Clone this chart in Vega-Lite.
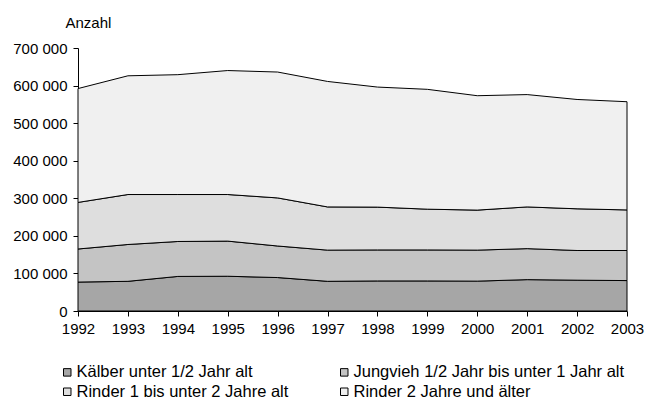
{
  "$schema": "https://vega.github.io/schema/vega-lite/v6.json",
  "autosize": {"type": "none"},
  "padding": {"left": 78, "top": 48, "right": 18, "bottom": 90},
  "width": 549,
  "height": 263,
  "background": "white",
  "config": {
    "font": "Liberation Sans",
    "view": {"stroke": null}
  },
  "data": {
    "values": [
      {"year": 1992, "series": "Kälber unter 1/2 Jahr alt", "k": 1, "value": 77000},
      {"year": 1993, "series": "Kälber unter 1/2 Jahr alt", "k": 1, "value": 79000},
      {"year": 1994, "series": "Kälber unter 1/2 Jahr alt", "k": 1, "value": 92000},
      {"year": 1995, "series": "Kälber unter 1/2 Jahr alt", "k": 1, "value": 92500},
      {"year": 1996, "series": "Kälber unter 1/2 Jahr alt", "k": 1, "value": 89000},
      {"year": 1997, "series": "Kälber unter 1/2 Jahr alt", "k": 1, "value": 79000},
      {"year": 1998, "series": "Kälber unter 1/2 Jahr alt", "k": 1, "value": 80000},
      {"year": 1999, "series": "Kälber unter 1/2 Jahr alt", "k": 1, "value": 80000},
      {"year": 2000, "series": "Kälber unter 1/2 Jahr alt", "k": 1, "value": 79500},
      {"year": 2001, "series": "Kälber unter 1/2 Jahr alt", "k": 1, "value": 83500},
      {"year": 2002, "series": "Kälber unter 1/2 Jahr alt", "k": 1, "value": 82000},
      {"year": 2003, "series": "Kälber unter 1/2 Jahr alt", "k": 1, "value": 81000},
      {"year": 1992, "series": "Jungvieh 1/2 Jahr bis unter 1 Jahr alt", "k": 2, "value": 88000},
      {"year": 1993, "series": "Jungvieh 1/2 Jahr bis unter 1 Jahr alt", "k": 2, "value": 98000},
      {"year": 1994, "series": "Jungvieh 1/2 Jahr bis unter 1 Jahr alt", "k": 2, "value": 93000},
      {"year": 1995, "series": "Jungvieh 1/2 Jahr bis unter 1 Jahr alt", "k": 2, "value": 93500},
      {"year": 1996, "series": "Jungvieh 1/2 Jahr bis unter 1 Jahr alt", "k": 2, "value": 84000},
      {"year": 1997, "series": "Jungvieh 1/2 Jahr bis unter 1 Jahr alt", "k": 2, "value": 83000},
      {"year": 1998, "series": "Jungvieh 1/2 Jahr bis unter 1 Jahr alt", "k": 2, "value": 82500},
      {"year": 1999, "series": "Jungvieh 1/2 Jahr bis unter 1 Jahr alt", "k": 2, "value": 82500},
      {"year": 2000, "series": "Jungvieh 1/2 Jahr bis unter 1 Jahr alt", "k": 2, "value": 82500},
      {"year": 2001, "series": "Jungvieh 1/2 Jahr bis unter 1 Jahr alt", "k": 2, "value": 82500},
      {"year": 2002, "series": "Jungvieh 1/2 Jahr bis unter 1 Jahr alt", "k": 2, "value": 79000},
      {"year": 2003, "series": "Jungvieh 1/2 Jahr bis unter 1 Jahr alt", "k": 2, "value": 80000},
      {"year": 1992, "series": "Rinder 1 bis unter 2 Jahre alt", "k": 3, "value": 124000},
      {"year": 1993, "series": "Rinder 1 bis unter 2 Jahre alt", "k": 3, "value": 133000},
      {"year": 1994, "series": "Rinder 1 bis unter 2 Jahre alt", "k": 3, "value": 125000},
      {"year": 1995, "series": "Rinder 1 bis unter 2 Jahre alt", "k": 3, "value": 124000},
      {"year": 1996, "series": "Rinder 1 bis unter 2 Jahre alt", "k": 3, "value": 128000},
      {"year": 1997, "series": "Rinder 1 bis unter 2 Jahre alt", "k": 3, "value": 115000},
      {"year": 1998, "series": "Rinder 1 bis unter 2 Jahre alt", "k": 3, "value": 114000},
      {"year": 1999, "series": "Rinder 1 bis unter 2 Jahre alt", "k": 3, "value": 108500},
      {"year": 2000, "series": "Rinder 1 bis unter 2 Jahre alt", "k": 3, "value": 106500},
      {"year": 2001, "series": "Rinder 1 bis unter 2 Jahre alt", "k": 3, "value": 111000},
      {"year": 2002, "series": "Rinder 1 bis unter 2 Jahre alt", "k": 3, "value": 111000},
      {"year": 2003, "series": "Rinder 1 bis unter 2 Jahre alt", "k": 3, "value": 108000},
      {"year": 1992, "series": "Rinder 2 Jahre und älter", "k": 4, "value": 303000},
      {"year": 1993, "series": "Rinder 2 Jahre und älter", "k": 4, "value": 316000},
      {"year": 1994, "series": "Rinder 2 Jahre und älter", "k": 4, "value": 319000},
      {"year": 1995, "series": "Rinder 2 Jahre und älter", "k": 4, "value": 330000},
      {"year": 1996, "series": "Rinder 2 Jahre und älter", "k": 4, "value": 335000},
      {"year": 1997, "series": "Rinder 2 Jahre und älter", "k": 4, "value": 334000},
      {"year": 1998, "series": "Rinder 2 Jahre und älter", "k": 4, "value": 319500},
      {"year": 1999, "series": "Rinder 2 Jahre und älter", "k": 4, "value": 319000},
      {"year": 2000, "series": "Rinder 2 Jahre und älter", "k": 4, "value": 304500},
      {"year": 2001, "series": "Rinder 2 Jahre und älter", "k": 4, "value": 299000},
      {"year": 2002, "series": "Rinder 2 Jahre und älter", "k": 4, "value": 291000},
      {"year": 2003, "series": "Rinder 2 Jahre und älter", "k": 4, "value": 288000}
    ]
  },
  "mark": {"type": "area", "stroke": "black", "strokeWidth": 1, "opacity": 1},
  "encoding": {
    "x": {
      "field": "year", "type": "quantitative",
      "scale": {"domain": [1992, 2003], "nice": false, "zero": false},
      "axis": {
        "values": [1992, 1993, 1994, 1995, 1996, 1997, 1998, 1999, 2000, 2001, 2002, 2003],
        "format": "d", "title": null, "grid": false,
        "domainColor": "black", "tickColor": "black", "tickSize": 5,
        "labelFontSize": 15, "labelColor": "black", "labelPadding": 5, "labelFlush": false
      }
    },
    "y": {
      "field": "value", "type": "quantitative", "stack": "zero",
      "scale": {"domain": [0, 700000], "nice": false},
      "axis": {
        "values": [0, 100000, 200000, 300000, 400000, 500000, 600000, 700000],
        "labelExpr": "replace(format(datum.value, ','), regexp(',', 'g'), ' ')",
        "grid": false,
        "domainColor": "black", "tickColor": "black", "tickSize": 5,
        "labelFontSize": 15, "labelColor": "black", "labelPadding": 6,
        "title": "Anzahl", "titleAngle": 0, "titleAlign": "left", "titleBaseline": "alphabetic",
        "titleX": -13, "titleY": -21, "titleFontSize": 15, "titleFontWeight": "normal", "titleColor": "black"
      }
    },
    "order": {"field": "k", "type": "quantitative", "sort": "ascending"},
    "color": {
      "field": "series", "type": "nominal",
      "scale": {
        "domain": ["Kälber unter 1/2 Jahr alt", "Jungvieh 1/2 Jahr bis unter 1 Jahr alt", "Rinder 1 bis unter 2 Jahre alt", "Rinder 2 Jahre und älter"],
        "range": ["#a6a6a6", "#c4c4c4", "#dedede", "#f0f0f0"]
      },
      "legend": {
        "title": null, "orient": "none", "legendX": -19, "legendY": 316,
        "direction": "horizontal", "columns": 2, "columnPadding": 47, "rowPadding": 2.5,
        "symbolType": "square", "symbolSize": 56, "symbolStrokeColor": "black", "symbolStrokeWidth": 1,
        "symbolOpacity": 1, "labelFontSize": 16.5, "labelColor": "black", "labelOffset": 1, "padding": 0, "labelLimit": 400
      }
    }
  }
}
